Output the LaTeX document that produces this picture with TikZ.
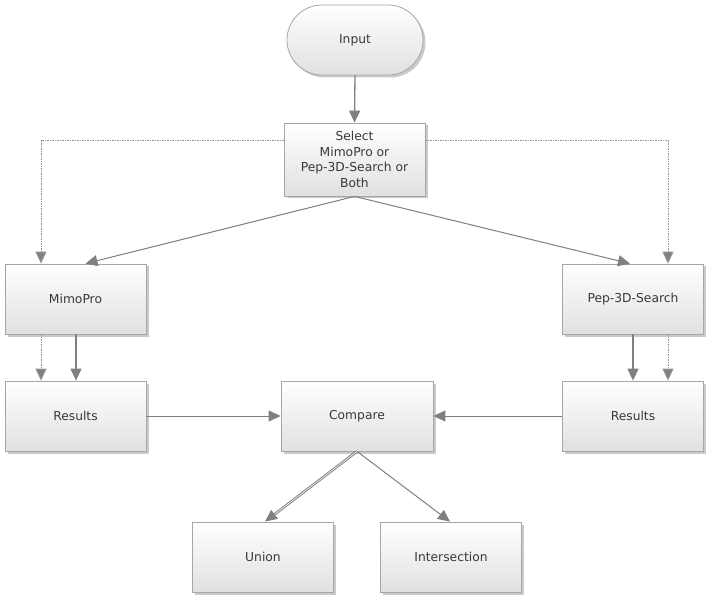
\documentclass[tikz,border=0pt]{standalone}
\usepackage{fontspec}
\setmainfont{DejaVu Sans}
\usetikzlibrary{arrows.meta,shadows,shapes.misc}
\definecolor{linegray}{HTML}{808080}
\definecolor{boxedge}{HTML}{A6A6A6}
\tikzset{
  box/.style={draw=boxedge, line width=0.8pt, top color=white, bottom color=black!12,
    minimum width=141pt, minimum height=70pt, inner sep=2pt, align=center,
    font=\fontsize{12.3}{15.5}\selectfont, text=black!78,
    drop shadow={shadow xshift=2.5pt, shadow yshift=-2.5pt, fill=black!35, opacity=0.6}},
  conn/.style={draw=linegray, line width=1.3pt, -{Triangle[width=11pt,length=12pt]}, color=linegray},
  dconn/.style={draw=linegray!85, line width=1pt, dash pattern=on 1.5pt off 1pt,
    -{Triangle[width=11pt,length=12pt,fill=linegray]}}
}
\begin{document}
\begin{tikzpicture}[x=1pt,y=-1pt]
\useasboundingbox (0,0) rectangle (715,604);
\node[box, rounded rectangle, minimum width=140pt, minimum height=70pt] (input) at (355,40) {Input};
\node[box, minimum width=141pt, minimum height=73pt] (sel) at (354.5,159.5) {Select\\MimoPro or\\Pep-3D-Search or\\Both};
\node[box] (mimo) at (75.5,299) {MimoPro};
\node[box] (pep) at (633,299) {Pep-3D-Search};
\node[box] (resl) at (75.5,416) {Results};
\node[box, minimum width=152pt] (cmp) at (357,416) {Compare};
\node[box] (resr) at (633,416) {Results};
\node[box] (uni) at (263,557) {Union};
\node[box] (inter) at (451,557) {Intersection};

\coordinate (dl) at (41,141);
\coordinate (dr) at (668,141);
\draw[conn] (input.south) -- (sel.north);
\draw[dconn] (sel.west |- dl) -- (dl) -- (dl |- mimo.north);
\draw[dconn] (sel.east |- dr) -- (dr) -- (dr |- pep.north);
\draw[conn, line width=1pt] (sel.south) -- ([xshift=10pt]mimo.north);
\draw[conn, line width=1pt] (sel.south) -- ([xshift=-3pt]pep.north);
\draw[dconn] (dl |- mimo.south) -- (dl |- resl.north);
\draw[conn] ([xshift=0.5pt]mimo.south) -- ([xshift=0.5pt]resl.north);
\draw[conn] (pep.south) -- (resr.north);
\draw[dconn] (dr |- pep.south) -- (dr |- resr.north);
\draw[conn, line width=1pt] (resl.east) -- (cmp.west);
\draw[conn, line width=1pt] (resr.west) -- (cmp.east);
\draw[conn, line width=1pt, double=white, double distance=0.6pt] (cmp.south) -- ([xshift=2pt]uni.north);
\draw[conn, line width=1pt] (cmp.south) -- ([xshift=-1pt]inter.north);
\end{tikzpicture}
\end{document}
